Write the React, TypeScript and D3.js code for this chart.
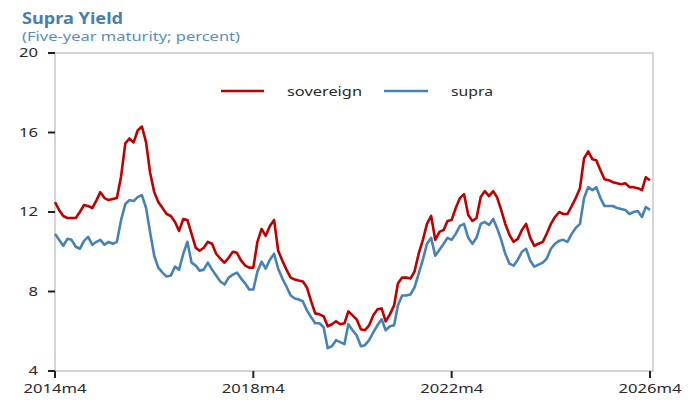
import * as d3 from "d3"

// Supra vs sovereign five-year yields, monthly from 2014m4
const startMonth = new Date(2014, 3, 1)

const sovereign = [
  12.5, 12.1, 11.8, 11.7, 11.7, 11.7, 12.0, 12.35, 12.3, 12.2, 12.6, 13.0,
  12.7, 12.6, 12.65, 12.7, 13.8, 15.45, 15.7, 15.5, 16.1, 16.3, 15.5, 14.0,
  13.0, 12.5, 12.2, 11.9, 11.8, 11.5, 11.05, 11.65, 11.6, 10.9, 10.2, 10.05,
  10.2, 10.5, 10.4, 9.9, 9.65, 9.45, 9.7, 10.0, 9.95, 9.55, 9.3, 9.2,
  9.2, 10.5, 11.15, 10.8, 11.3, 11.6, 10.05, 9.55, 9.1, 8.7, 8.6, 8.55,
  8.5, 8.2, 7.5, 6.9, 6.85, 6.75, 6.25, 6.35, 6.5, 6.35, 6.4, 7.0,
  6.8, 6.6, 6.1, 6.05, 6.3, 6.8, 7.1, 7.15, 6.5, 6.85, 7.3, 8.4,
  8.7, 8.7, 8.65, 9.0, 9.9, 10.6, 11.4, 11.8, 10.6, 11.0, 11.1, 11.55,
  11.6, 12.2, 12.7, 12.9, 11.85, 11.55, 11.7, 12.75, 13.05, 12.8, 13.05, 12.75,
  12.1, 11.4, 10.85, 10.5, 10.65, 11.1, 11.4, 10.7, 10.3, 10.4, 10.5, 10.9,
  11.4, 11.75, 12.0, 11.9, 11.9, 12.3, 12.7, 13.2, 14.7, 15.05, 14.65, 14.6,
  14.1, 13.65, 13.6, 13.5, 13.45, 13.4, 13.45, 13.25, 13.25, 13.2, 13.1, 13.75,
  13.6,
]

const supra = [
  10.9, 10.6, 10.3, 10.65, 10.6, 10.25, 10.15, 10.55, 10.75, 10.35, 10.5, 10.6,
  10.35, 10.5, 10.4, 10.5, 11.6, 12.4, 12.6, 12.55, 12.75, 12.85, 12.2, 11.0,
  9.8, 9.2, 8.95, 8.75, 8.8, 9.25, 9.1, 9.9, 10.5, 9.45, 9.3, 9.05,
  9.1, 9.45, 9.1, 8.8, 8.5, 8.35, 8.7, 8.85, 8.95, 8.65, 8.4, 8.1,
  8.1, 9.0, 9.5, 9.15, 9.6, 9.9, 9.15, 8.65, 8.25, 7.8, 7.65, 7.6,
  7.5, 7.05, 6.7, 6.4, 6.4, 6.2, 5.15, 5.25, 5.55, 5.45, 5.35, 6.35,
  6.05, 5.8, 5.25, 5.3, 5.55, 5.95, 6.3, 6.6, 6.05, 6.25, 6.3, 7.3,
  7.8, 7.8, 7.85, 8.2, 8.9, 9.6, 10.4, 10.7, 9.8, 10.1, 10.4, 10.7,
  10.6, 10.9, 11.3, 11.4, 10.7, 10.4, 10.7, 11.4, 11.5, 11.35, 11.65, 11.2,
  10.6, 9.9, 9.4, 9.3, 9.6, 10.0, 10.15, 9.55, 9.25, 9.35, 9.45, 9.65,
  10.15, 10.4, 10.55, 10.6, 10.5, 10.9, 11.2, 11.4, 12.7, 13.25, 13.1, 13.25,
  12.7, 12.3, 12.3, 12.3, 12.2, 12.15, 12.1, 11.9, 12.0, 12.05, 11.75, 12.25,
  12.1,
]

const yTicks = [4, 8, 12, 16, 20]
const xTickLabels = ["2014m4", "2018m4", "2022m4", "2026m4"]
const seriesNames = ["sovereign", "supra"]

const W = 700
const H = 407
const frame = { left: 55, right: 653, top: 53, bottom: 371 }
const RED = "#c00000"
const BLUE = "#4682b4"
const FONT = "'Noto Sans', 'Open Sans', sans-serif"
// the reference is stretched sideways, so the text is widened to match
const STRETCH = 1.33

export default function App() {
  const dates = sovereign.map((_, i) => d3.timeMonth.offset(startMonth, i))

  const x = d3.scaleTime()
    .domain([startMonth, dates[dates.length - 1]])
    .range([frame.left, 650])
  const y = d3.scaleLinear()
    .domain([4, 20])
    .range([frame.bottom, frame.top])

  const xTicks = xTickLabels.map(s => {
    const [yr, m] = s.split("m").map(Number)
    return new Date(yr, m - 1, 1)
  })

  const line = d3.line<number>()
    .x((_, i) => x(dates[i]))
    .y(d => y(d))

  const legendY = 91

  // widened text: scale glyphs horizontally around the anchor
  const wide = (tx: number, ty: number) => `translate(${tx},${ty}) scale(${STRETCH},1)`

  return (
    <div style={{ position: "absolute", left: 0, top: 0 }}>
      <svg width={W} height={H} style={{ display: "block", background: "#fff" }}>
        <text x={22} y={24} textLength={101} lengthAdjust="spacingAndGlyphs"
          fontFamily={FONT} fontSize={15.5} fontWeight="bold" fill="#4a7eac">Supra Yield</text>
        <text x={22} y={41} textLength={218} lengthAdjust="spacingAndGlyphs"
          fontFamily={FONT} fontSize={12.5} fill="#5b8dba">(Five-year maturity; percent)</text>

        {/* frame */}
        <rect x={frame.left} y={frame.top} width={frame.right - frame.left} height={frame.bottom - frame.top}
          fill="none" stroke="#c8c8c8" strokeWidth={1.5} />

        {/* y axis ticks */}
        {yTicks.map(t => (
          <g key={t}>
            <line x1={frame.left - 7} x2={frame.left} y1={y(t)} y2={y(t)} stroke="#222" strokeWidth={2} />
            <text transform={wide(38, y(t) + 4.3)} textAnchor="end"
              fontFamily={FONT} fontSize={12.5} fill="#2a2a2a">{t}</text>
          </g>
        ))}

        {/* x axis ticks */}
        {xTicks.map((d, i) => (
          <g key={i}>
            <line x1={x(d)} x2={x(d)} y1={frame.bottom} y2={frame.bottom + 7} stroke="#222" strokeWidth={2} />
            <text transform={wide(x(d), 392.5)} textAnchor="middle"
              fontFamily={FONT} fontSize={12.5} fill="#2a2a2a">{xTickLabels[i]}</text>
          </g>
        ))}

        <path d={line(supra) ?? ""} fill="none" stroke={BLUE} strokeWidth={2.6} strokeLinejoin="round" />
        <path d={line(sovereign) ?? ""} fill="none" stroke={RED} strokeWidth={2.6} strokeLinejoin="round" />

        {/* legend */}
        <line x1={221} x2={264} y1={legendY} y2={legendY} stroke={RED} strokeWidth={2.6} />
        <text x={287} y={legendY + 4.5} textLength={75} lengthAdjust="spacingAndGlyphs"
          fontFamily={FONT} fontSize={13} fill="#2a2a2a">{seriesNames[0]}</text>
        <line x1={384} x2={428} y1={legendY} y2={legendY} stroke={BLUE} strokeWidth={2.6} />
        <text x={451} y={legendY + 4.5} textLength={42} lengthAdjust="spacingAndGlyphs"
          fontFamily={FONT} fontSize={13} fill="#2a2a2a">{seriesNames[1]}</text>
      </svg>
    </div>
  )
}
